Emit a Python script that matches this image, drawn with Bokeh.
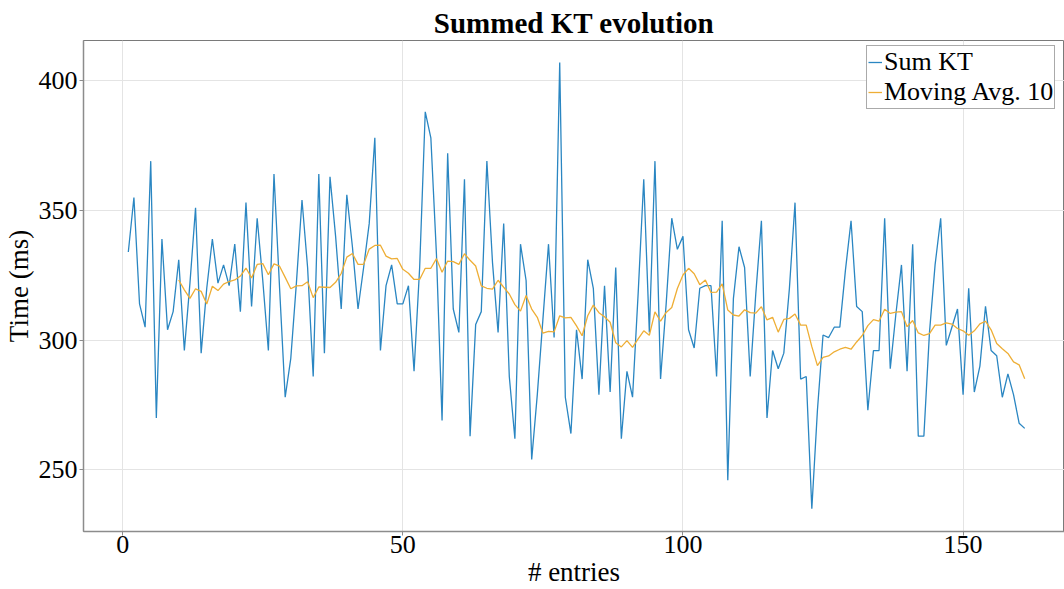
import numpy as np
from bokeh.plotting import figure
from bokeh.models import (ColumnDataSource, FixedTicker, Legend, LegendItem,
                          Range1d)
from bokeh.embed import file_html
from bokeh.resources import INLINE

# ---- data ----
sum_kt = [
    334, 355, 314, 305, 369, 270, 339, 304, 311, 331,
    296, 322, 351, 295, 320, 339, 322, 329, 321, 337,
    311, 353, 313, 347, 323, 296, 364, 320, 278, 293,
    322, 354, 328, 286, 364, 295, 363, 340, 312, 356,
    336, 312, 328, 345, 378, 296, 321, 329, 314, 314,
    321, 288, 328, 388, 378, 333, 269, 372, 312, 303,
    362, 263, 306, 311, 369, 330, 303, 345, 286, 262,
    337, 323, 254, 279, 308, 337, 301, 407, 278, 264,
    304, 285, 331, 320, 279, 321, 280, 328, 262, 288,
    278, 318, 362, 303, 369, 285, 314, 347, 335, 340,
    304, 297, 320, 321, 321, 286, 346, 246, 316, 336,
    328, 286, 318, 346, 270, 296, 289, 295, 320, 353,
    285, 286, 235, 273, 302, 301, 305, 305, 327, 346,
    313, 311, 273, 296, 296, 347, 289, 310, 329, 288,
    337, 263, 263, 303, 329, 347, 298, 305, 312, 279,
    320, 280, 290, 313, 296, 294, 278, 287, 279, 268,
    266,
]
entries = list(range(1, len(sum_kt) + 1))
window = 10
ma_entries = entries[window - 1:]
ma_values = list(np.convolve(sum_kt, np.ones(window) / window, mode="valid"))

x_ticks = [0, 50, 100, 150]
y_ticks = [250, 300, 350, 400]
title_text = "Summed KT evolution"
x_label = "# entries"
y_label = "Time (ms)"
series_names = ["Sum KT", "Moving Avg. 10"]

FONT = "Liberation Serif"
BLUE = "#2a86c2"
ORANGE = "#eeae35"

src_sum = ColumnDataSource(dict(x=entries, y=sum_kt))
src_ma = ColumnDataSource(dict(x=ma_entries, y=ma_values))

p = figure(width=1064, height=589, output_backend="svg", toolbar_location=None,
           x_range=Range1d(-7.0, 168.1), y_range=Range1d(226.25, 415.5),
           min_border_left=81, min_border_right=0, min_border_top=40,
           min_border_bottom=57)

p.background_fill_color = "white"
p.border_fill_color = "white"
p.outline_line_color = "#7a7a7a"
p.outline_line_width = 1

# title
p.title.text = title_text
p.title.align = "center"
p.title.text_font = FONT
p.title.text_font_style = "bold"
p.title.text_font_size = "29px"
p.title.text_color = "black"
p.title.standoff = 4

# grids
for g in (p.xgrid, p.ygrid):
    g.grid_line_color = "#e4e4e4"
    g.grid_line_width = 1
p.xgrid.ticker = FixedTicker(ticks=x_ticks)
p.ygrid.ticker = FixedTicker(ticks=y_ticks)

# axes
p.xaxis.ticker = FixedTicker(ticks=x_ticks)
p.yaxis.ticker = FixedTicker(ticks=y_ticks)
for ax in (p.xaxis, p.yaxis):
    ax.axis_line_color = "#8c8c8c"
    ax.axis_line_width = 1.5
    ax.major_tick_line_color = "#8c8c8c"
    ax.major_tick_out = 4
    ax.major_tick_in = 0
    ax.minor_tick_line_color = None
    ax.major_label_text_font = FONT
    ax.major_label_text_font_size = "26px"
    ax.major_label_text_color = "black"
    ax.axis_label_text_font = FONT
    ax.axis_label_text_font_style = "normal"
    ax.axis_label_text_font_size = "27px"
    ax.axis_label_text_color = "black"

p.yaxis.axis_label = y_label
p.yaxis.major_label_standoff = 2
p.yaxis.axis_label_standoff = 2

p.xaxis.axis_label = x_label
p.xaxis.major_label_standoff = 0
p.xaxis.axis_label_standoff = 1

r1 = p.line("x", "y", source=src_sum, line_color=BLUE, line_width=1.3)
r2 = p.line("x", "y", source=src_ma, line_color=ORANGE, line_width=1.3)

legend = Legend(items=[LegendItem(label=series_names[0], renderers=[r1]),
                       LegendItem(label=series_names[1], renderers=[r2])],
                location=(783, 422))
legend.label_text_font = FONT
legend.label_text_font_size = "26px"
legend.label_text_color = "black"
legend.label_standoff = 2
legend.glyph_width = 14
legend.glyph_height = 24
legend.label_height = 27
legend.spacing = 0
legend.padding = 1
legend.margin = 0
legend.border_line_color = "#555555"
legend.border_line_width = 1
legend.background_fill_color = "white"
legend.background_fill_alpha = 1
p.add_layout(legend)

open("out.html", "w").write(file_html(p, INLINE))
